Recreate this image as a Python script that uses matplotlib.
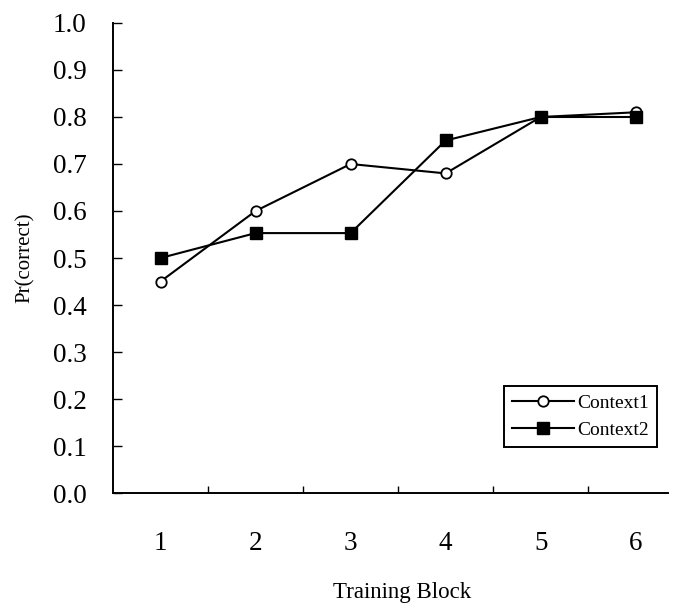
import matplotlib
matplotlib.use('Agg')
import matplotlib.pyplot as plt
import numpy as np

# data
blocks = [1, 2, 3, 4, 5, 6]
context1 = [0.45, 0.60, 0.70, 0.68, 0.80, 0.81]
context2 = [0.50, 0.553, 0.553, 0.75, 0.80, 0.80]
ytick_vals = [0.0, 0.1, 0.2, 0.3, 0.4, 0.5, 0.6, 0.7, 0.8, 0.9, 1.0]
boundaries = [1.5, 2.5, 3.5, 4.5, 5.5]

plt.rcParams['font.family'] = ['Liberation Serif', 'DejaVu Serif']

fig = plt.figure(figsize=(6.78, 6.05), dpi=100)
ax = fig.add_axes([0.1667, 0.1851, 0.8186, 0.7769])

ax.plot(blocks, context1, color='black', lw=1.5, marker='o', markersize=7.5,
        markerfacecolor='white', markeredgecolor='black', markeredgewidth=1.3,
        label='Context1', zorder=3)
ax.plot(blocks, context2, color='black', lw=1.5, marker='s', markersize=8,
        markerfacecolor='black', markeredgecolor='black', label='Context2', zorder=3)

ax.set_xlim(0.5, 6.34)
ax.set_ylim(0, 1.0)

ax.spines['top'].set_visible(False)
ax.spines['right'].set_visible(False)
ax.spines['left'].set_linewidth(1.4)
ax.spines['bottom'].set_linewidth(1.4)

# y ticks: inward
ax.set_yticks(ytick_vals)
ax.set_yticklabels(['%.1f' % v for v in ytick_vals])
ax.tick_params(axis='y', direction='in', length=6.5, width=1, pad=19, labelsize=19.5)

# x: labels at block centres, tick marks at block boundaries
ax.set_xticks(blocks)
ax.set_xticklabels([str(b) for b in blocks])
ax.tick_params(axis='x', which='major', length=0, pad=27, labelsize=19.5)
ax.set_xticks(boundaries, minor=True)
ax.tick_params(axis='x', which='minor', direction='in', length=5, width=1)

ax.set_xlabel('Training Block', fontsize=16.5, va='baseline')
ax.xaxis.set_label_coords(0.52, -0.2234)
ax.set_ylabel('Pr(correct)', fontsize=15, va='center')
ax.yaxis.set_label_coords(-0.1586, 0.5)

leg = ax.legend(loc='lower right', bbox_to_anchor=(0.98, 0.098), fontsize=14,
                fancybox=False, framealpha=1, edgecolor='black',
                handlelength=3.2, handletextpad=0.15, borderpad=0.4,
                labelspacing=0.5, borderaxespad=0)
leg.get_frame().set_linewidth(1.4)

fig.savefig('out.png', dpi=100)
